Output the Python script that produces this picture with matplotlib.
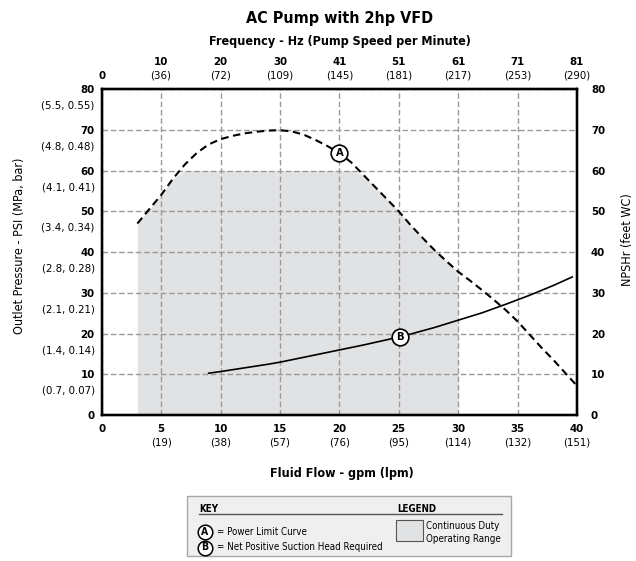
import matplotlib
matplotlib.use('Agg')
import matplotlib.pyplot as plt
from matplotlib import font_manager
from matplotlib.patches import Rectangle
from matplotlib.lines import Line2D
import matplotlib.transforms as mtransforms
import numpy as np

ttf = font_manager.fontManager.ttflist
names = {f.name for f in ttf}
STRETCH = 'normal'
if 'Liberation Sans Narrow' in names:
    FONT = 'Liberation Sans Narrow'
elif any(f.name == 'DejaVu Sans' and str(f.stretch) in ('condensed', 'semi-condensed', '87.5', '75')
         for f in ttf):
    FONT = 'DejaVu Sans'
    STRETCH = 'condensed'
elif 'Roboto Condensed' in names:
    FONT = 'Roboto Condensed'
else:
    FONT = 'Roboto'
plt.rcParams['font.family'] = [FONT, 'DejaVu Sans']
plt.rcParams['font.stretch'] = STRETCH

# ---------------- data ----------------
flow_ticks = [0, 5, 10, 15, 20, 25, 30, 35, 40]
flow_lpm = ['', '(19)', '(38)', '(57)', '(76)', '(95)', '(114)', '(132)', '(151)']
freq_hz = ['0', '10', '20', '30', '41', '51', '61', '71', '81']
freq_rpm = ['', '(36)', '(72)', '(109)', '(145)', '(181)', '(217)', '(253)', '(290)']
psi_ticks = [0, 10, 20, 30, 40, 50, 60, 70, 80]
psi_metric = ['', '(0.7, 0.07)', '(1.4, 0.14)', '(2.1, 0.21)', '(2.8, 0.28)',
              '(3.4, 0.34)', '(4.1, 0.41)', '(4.8, 0.48)', '(5.5, 0.55)']
npsh_ticks = [0, 10, 20, 30, 40, 50, 60, 70, 80]

# Curve A: power limit curve (psi vs gpm)
power_flow = [3, 4, 5, 6, 7, 8, 9, 10, 11, 12, 13, 14, 15, 16, 17, 18, 19, 20,
              21, 22, 23, 24, 25, 26, 27, 28, 29, 30, 31, 32, 33, 34, 35, 36,
              37, 38, 39, 40]
power_psi = [47, 50.5, 54, 58, 61.5, 64.3, 66.4, 67.7, 68.5, 69.1, 69.5, 69.8,
             69.9, 69.6, 68.8, 67.5, 66.0, 64.3, 62.0, 59.0, 56.0, 53.0, 50.0,
             46.6, 43.5, 40.5, 37.8, 35.2, 33.0, 30.7, 28.3, 25.8, 23.0, 19.8,
             16.6, 13.6, 10.4, 7.2]

# Curve B: NPSHr
npsh_flow = [9, 10, 12, 14, 15, 16, 18, 20, 22, 24, 25, 26, 28, 30, 32, 34, 36,
             38, 39.6]
npsh_ft = [10.3, 10.7, 11.6, 12.5, 13.0, 13.6, 14.8, 16.0, 17.2, 18.5, 19.2,
           19.9, 21.5, 23.3, 25.1, 27.2, 29.4, 31.8, 33.9]

duty_min_flow = 3
duty_max_flow = 30
duty_max_psi = 60

label_a_pos = (20.0, 64.4)
label_b_pos = (25.1, 19.2)

# ---------------- figure ----------------
W, H = 636, 561
fig = plt.figure(figsize=(W / 100, H / 100), dpi=100)

def fx(x):
    return x / W

def fy(y):
    return 1 - y / H

ax_l, ax_r, ax_t, ax_b = 101.7, 577.0, 89.0, 415.2
ax = fig.add_axes([fx(ax_l), fy(ax_b), (ax_r - ax_l) / W, (ax_b - ax_t) / H])
ax.set_xlim(0, 40)
ax.set_ylim(0, 80)

FILL = '#e1e2e4'
GRID = '#9a9a9a'

pf = np.array(power_flow, dtype=float)
pp = np.array(power_psi, dtype=float)
mask = (pf >= duty_min_flow) & (pf <= duty_max_flow)
ax.fill_between(pf[mask], 0, np.minimum(pp[mask], duty_max_psi),
                color=FILL, lw=0, zorder=0.2)

ax.set_axisbelow(True)
ax.grid(True, color=GRID, linestyle=(0, (4, 2)), lw=1.0)

ax.plot(power_flow, power_psi, color='black', lw=1.5, dashes=(3.6, 2.2),
        zorder=3, solid_capstyle='butt')
ax.plot(npsh_flow, npsh_ft, color='black', lw=1.2, zorder=3)

for lab, (x, y) in (('A', label_a_pos), ('B', label_b_pos)):
    ax.plot([x], [y], 'o', ms=12, mfc='white', mec='black', mew=1.2, zorder=5)
    ax.text(x, y, lab, ha='center', va='center', fontsize=8, fontweight='bold',
            zorder=6)

for sp in ax.spines.values():
    sp.set_linewidth(1.6)
    sp.set_color('black')

TICK_FS = 8.2
ax.set_xticks(flow_ticks, labels=[str(v) for v in flow_ticks])
ax.tick_params(axis='x', length=0, pad=10)
for t in ax.get_xticklabels():
    t.set_fontweight('bold'); t.set_fontsize(TICK_FS); t.set_va('center')
trb = mtransforms.offset_copy(ax.get_xaxis_transform(), fig=fig, x=0, y=-27.5,
                              units='dots')
for v, s in zip(flow_ticks, flow_lpm):
    if s:
        ax.text(v, 0, s, transform=trb, ha='center', va='center', fontsize=TICK_FS)

ax.set_yticks(psi_ticks, labels=[str(v) for v in psi_ticks])
ax.tick_params(axis='y', length=0, pad=5)
for t in ax.get_yticklabels():
    t.set_fontweight('bold'); t.set_fontsize(TICK_FS)
trl = mtransforms.offset_copy(ax.get_yaxis_transform(), fig=fig, x=-7, y=-16.5,
                              units='dots')
for v, s in zip(psi_ticks, psi_metric):
    if s:
        ax.text(0, v, s, transform=trl, ha='right', va='center', fontsize=TICK_FS)

ax2 = ax.twinx()
ax2.set_ylim(0, 80)
ax2.set_yticks(npsh_ticks, labels=[str(v) for v in npsh_ticks])
ax2.tick_params(axis='y', length=0, pad=10)
for t in ax2.get_yticklabels():
    t.set_fontweight('bold'); t.set_fontsize(TICK_FS)

ax3 = ax.twiny()
ax3.set_xlim(0, 40)
ax3.set_xticks(flow_ticks[1:], labels=freq_hz[1:])
ax3.tick_params(axis='x', length=0, pad=19.5)
for t in ax3.get_xticklabels():
    t.set_fontweight('bold'); t.set_fontsize(TICK_FS); t.set_va('center')
trt = mtransforms.offset_copy(ax3.get_xaxis_transform(), fig=fig, x=0, y=13.3,
                              units='dots')
for v, s in zip(flow_ticks, freq_rpm):
    if s:
        ax3.text(v, 1, s, transform=trt, ha='center', va='center', fontsize=TICK_FS)
ax3.text(flow_ticks[0], 1, freq_hz[0], transform=trt, ha='center', va='center',
         fontsize=TICK_FS, fontweight='bold')

for a in (ax2, ax3):
    for sp in a.spines.values():
        sp.set_linewidth(1.6)
        sp.set_color('black')

fig.text(fx(340), fy(19), 'AC Pump with 2hp VFD', ha='center', va='center',
         fontsize=11.5, fontweight='bold')
fig.text(fx(340), fy(41), 'Frequency - Hz (Pump Speed per Minute)', ha='center',
         va='center', fontsize=9, fontweight='bold')
fig.text(fx(342), fy(474), 'Fluid Flow - gpm (lpm)', ha='center', va='center',
         fontsize=9, fontweight='bold')
fig.text(fx(20), fy(246), 'Outlet Pressure - PSI (MPa, bar)', ha='center',
         va='center', rotation=90, fontsize=9)
fig.text(fx(627), fy(240), 'NPSHr (feet WC)', ha='center', va='center',
         rotation=90, fontsize=9)

bx0, by0, bx1, by1 = 187, 496, 511, 556
fig.add_artist(Rectangle((fx(bx0), fy(by1)), (bx1 - bx0) / W, (by1 - by0) / H,
                         transform=fig.transFigure, facecolor='#efefef',
                         edgecolor='#a8a8a8', lw=1.0))
fig.text(fx(199), fy(508.5), 'KEY', ha='left', va='center', fontsize=7,
         fontweight='bold')
fig.text(fx(397), fy(508.5), 'LEGEND', ha='left', va='center', fontsize=7,
         fontweight='bold')
fig.add_artist(Line2D([fx(199), fx(502)], [fy(514), fy(514)],
                      transform=fig.transFigure, color='#555555', lw=1.0))
for lab, txt, yy in (('A', '= Power Limit Curve', 532),
                     ('B', '= Net Positive Suction Head Required', 547.5)):
    fig.add_artist(Line2D([fx(205)], [fy(yy)], transform=fig.transFigure,
                          marker='o', ms=10.5, mfc='white', mec='black', mew=1.1,
                          ls='none'))
    fig.text(fx(205), fy(yy), lab, ha='center', va='center', fontsize=7.5,
             fontweight='bold')
    fig.text(fx(217), fy(yy), txt, ha='left', va='center', fontsize=7)
fig.add_artist(Rectangle((fx(396), fy(541)), 27 / W, 21 / H,
                         transform=fig.transFigure, facecolor=FILL,
                         edgecolor='#555555', lw=0.8))
fig.text(fx(426), fy(526), 'Continuous Duty', ha='left', va='center',
         fontsize=7)
fig.text(fx(426), fy(539), 'Operating Range', ha='left', va='center',
         fontsize=7)

fig.savefig('out.png', dpi=100)
